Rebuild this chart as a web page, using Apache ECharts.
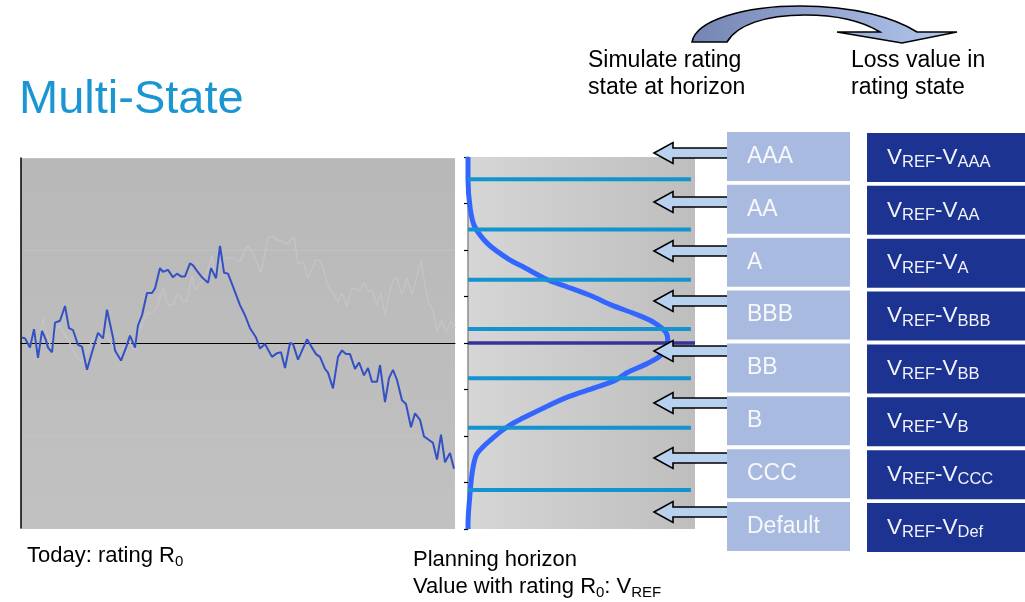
<!DOCTYPE html>
<html>
<head>
<meta charset="utf-8">
<script src="https://cdn.jsdelivr.net/npm/echarts@6/dist/echarts.min.js"></script>
<style>
  html, body { margin: 0; padding: 0; background: #ffffff; }
  #chart { width: 1025px; height: 602px; }
</style>
</head>
<body>
<div id="chart"></div>
<script>
// Simulated rating-index path (day, level) from today to the planning horizon
const walkDay = [1, 4, 6, 9, 13, 17, 21, 23, 25, 27, 31, 34, 39, 44, 48, 52, 57, 61, 66, 71,
  77, 82, 86, 92, 94, 100, 105, 109, 114, 117, 121, 126, 131, 134, 139, 142, 147, 152, 156, 160,
  164, 169, 172, 176, 181, 187, 190, 195, 199, 203, 207, 212, 219, 224, 229, 232, 235, 239, 244, 246,
  251, 256, 260, 264, 269, 272, 277, 286, 291, 295, 299, 304, 307, 312, 317, 321, 325, 329, 334, 338,
  343, 347, 351, 356, 359, 364, 368, 372, 376, 381, 385, 390, 394, 399, 403, 407, 412, 416, 420, 424,
  429, 433];
const walkLevel = [0.06, 0.05, 0.01, -0.05, 0.15, -0.16, 0.13, 0.14, 0.03, -0.05, -0.10, 0.22, 0.24, 0.40, 0.16, 0.14, -0.02, -0.04, -0.29, -0.10,
  0.11, 0.05, 0.36, 0.06, -0.08, -0.19, -0.05, 0.08, -0.05, 0.19, 0.30, 0.54, 0.54, 0.59, 0.81, 0.77, 0.79, 0.71, 0.75, 0.72,
  0.72, 0.86, 0.84, 0.78, 0.71, 0.65, 0.81, 0.70, 1.05, 0.76, 0.75, 0.61, 0.41, 0.30, 0.16, 0.11, 0.06, -0.06, -0.01, -0.02,
  -0.15, -0.11, -0.10, -0.27, 0.00, -0.01, -0.18, 0.04, -0.05, -0.12, -0.15, -0.28, -0.32, -0.49, -0.15, -0.08, -0.12, -0.12, -0.28, -0.21,
  -0.35, -0.27, -0.42, -0.42, -0.24, -0.64, -0.38, -0.29, -0.40, -0.62, -0.66, -0.91, -0.76, -0.83, -1.01, -1.04, -1.08, -1.26, -0.99, -1.29,
  -1.19, -1.36];

// A second, alternative path shown faintly in the background
const ghostDay = [1, 4, 9, 13, 17, 22, 27, 31, 35, 39, 43, 48, 54, 60, 66, 72, 78, 84, 90, 96,
  102, 108, 113, 116, 126, 131, 136, 142, 147, 152, 157, 162, 166, 171, 174, 181, 186, 191, 194, 198,
  204, 212, 219, 226, 231, 240, 247, 252, 257, 261, 266, 273, 277, 282, 287, 295, 299, 302, 307, 312,
  317, 321, 326, 330, 334, 338, 343, 347, 351, 356, 360, 364, 369, 373, 376, 381, 386, 391, 400, 407,
  412, 416, 421, 425, 430, 434];
const ghostLevel = [0.06, 0.05, -0.03, 0.12, -0.14, 0.27, 0.05, -0.08, 0.15, 0.19, 0.10, 0.02, -0.12, -0.20, -0.10, 0.05, -0.02, 0.10, 0.00, -0.12,
  -0.06, 0.02, -0.08, 0.09, 0.32, 0.32, 0.39, 0.59, 0.41, 0.41, 0.54, 0.44, 0.46, 0.73, 0.57, 0.66, 0.76, 0.94, 0.70, 0.84,
  0.92, 0.92, 0.88, 1.05, 1.00, 0.76, 1.14, 1.15, 1.11, 1.10, 1.07, 1.15, 0.86, 0.88, 0.70, 0.90, 0.89, 0.82, 0.61, 0.54,
  0.44, 0.54, 0.39, 0.57, 0.59, 0.56, 0.65, 0.56, 0.57, 0.41, 0.54, 0.30, 0.57, 0.70, 0.70, 0.52, 0.70, 0.52, 0.89, 0.44,
  0.35, 0.12, 0.25, 0.11, 0.24, 0.16];

// Distribution of the rating index at the horizon (level, density)
const densityLevel = [2.00, 1.76, 1.44, 1.25, 1.06, 0.90, 0.81, 0.68, 0.61, 0.50, 0.41, 0.30, 0.22, 0.12, 0.03,
  -0.13, -0.22, -0.32, -0.40, -0.48, -0.58, -0.69, -0.81, -0.89, -1.02, -1.19, -1.37, -1.59, -1.95, -2.00];
const densityValue = [0.00, 0.00, 0.01, 0.03, 0.09, 0.18, 0.25, 0.35, 0.43, 0.55, 0.63, 0.75, 0.82, 0.87, 0.88,
  0.85, 0.79, 0.70, 0.65, 0.56, 0.44, 0.34, 0.24, 0.18, 0.11, 0.04, 0.02, 0.01, 0.00, 0.00];

// Rating-band thresholds on the index scale, and the reference level
const thresholds = [1.76, 1.22, 0.68, 0.15, -0.38, -0.91, -1.58];
const referenceLevel = 0;

// Rating states and loss labels
const ratings = ['AAA', 'AA', 'A', 'BBB', 'BB', 'B', 'CCC', 'Default'];
const lossSubs = ['AAA', 'AA', 'A', 'BBB', 'BB', 'B', 'CCC', 'Def'];

// ---- layout constants ----
const FONT = '"Liberation Sans", Arial, sans-serif';
const rowTop = 132, rowStep = 52.86, rowH = 49;
const arrowCenters = [153, 202, 251, 301, 351, 403, 458, 512];

// Curved block arrow between the two captions
echarts.graphic.registerShape('curvedArrow', echarts.graphic.extendPath(
  'M692,42 C696,20 745,6 800,6 C855,6 895,18 917,32 L957,32 L902,43 L837,32 L880,32 C862,21 835,15 805,15 C765,15 737,25 727,42 Z',
  {}
));

const chart = echarts.init(document.getElementById('chart'), null, { renderer: 'canvas' });

const series = [
  {
    type: 'line', xAxisIndex: 0, yAxisIndex: 0, symbol: 'none', z: 2,
    lineStyle: { color: '#c3c3c8', width: 1.5 },
    data: ghostDay.map((d, i) => [d, ghostLevel[i]])
  },
  {
    type: 'line', xAxisIndex: 0, yAxisIndex: 0, symbol: 'none', z: 3,
    lineStyle: { color: '#3351c4', width: 2 },
    data: walkDay.map((d, i) => [d, walkLevel[i]])
  },
  {
    type: 'line', xAxisIndex: 1, yAxisIndex: 1, symbol: 'none', z: 3, smooth: 0.3,
    lineStyle: { color: '#3366ff', width: 5 },
    data: densityLevel.map((l, i) => [densityValue[i], l])
  }
];
thresholds.forEach(t => {
  series.push({
    type: 'line', xAxisIndex: 1, yAxisIndex: 1, symbol: 'none', z: 4,
    lineStyle: { color: '#1592d0', width: 4 },
    data: [[0, t], [0.982, t]]
  });
});
series.push({
  type: 'line', xAxisIndex: 1, yAxisIndex: 1, symbol: 'none', z: 5,
  lineStyle: { color: '#333399', width: 3.5 },
  data: [[0, referenceLevel], [1, referenceLevel]]
});

// Decorations: headline, captions, rating boxes and pointer arrows
const graphics = [];

graphics.push({
  type: 'text', x: 19, y: 100,
  style: { text: 'Multi-State', fill: '#1b96d3', font: '47px ' + FONT, verticalAlign: 'middle' }
});
graphics.push({
  type: 'text', x: 588, y: 74,
  style: { text: 'Simulate rating\nstate at horizon', fill: '#000', font: '23px ' + FONT, lineHeight: 27, verticalAlign: 'middle' }
});
graphics.push({
  type: 'text', x: 851, y: 74,
  style: { text: 'Loss value in\nrating state', fill: '#000', font: '23px ' + FONT, lineHeight: 27, verticalAlign: 'middle' }
});

graphics.push({
  type: 'curvedArrow', z: 10,
  shape: {},
  style: {
    fill: new echarts.graphic.LinearGradient(0, 0, 1, 0, [
      { offset: 0, color: '#7585b3' }, { offset: 1, color: '#b4c8ef' }
    ]),
    stroke: '#000', lineWidth: 1.5
  }
});

const subRich = (main, sub) => ({
  m: { fontSize: main, fontFamily: FONT, lineHeight: main + 5, verticalAlign: 'middle' },
  s: { fontSize: sub, fontFamily: FONT, lineHeight: sub, verticalAlign: 'bottom' }
});

graphics.push({
  type: 'text', x: 27, y: 556,
  style: { text: '{m|Today: rating R}{s|0}', fill: '#000', rich: subRich(22, 15), verticalAlign: 'middle' }
});
graphics.push({
  type: 'text', x: 413, y: 573,
  style: {
    text: '{m|Planning horizon}\n{m|Value with rating R}{s|0}{m|: V}{s|REF}',
    fill: '#000', rich: subRich(22, 15), verticalAlign: 'middle'
  }
});

arrowCenters.forEach(cy => {
  graphics.push({
    type: 'polygon', z: 20,
    shape: { points: [[654, cy], [673, cy - 10.5], [673, cy - 5], [732, cy - 5], [732, cy + 5], [673, cy + 5], [673, cy + 10.5]] },
    style: { fill: '#b7d1ee', stroke: '#000', lineWidth: 1.6 }
  });
});

ratings.forEach((r, i) => {
  const top = rowTop + i * rowStep;
  graphics.push({
    type: 'rect', z: 30,
    shape: { x: 727, y: top, width: 123, height: rowH },
    style: { fill: '#a8badf' }
  });
  graphics.push({
    type: 'text', z: 31, x: 747, y: top + rowH / 2,
    style: { text: r, fill: '#f7f8fc', font: '23px ' + FONT, verticalAlign: 'middle' }
  });
  graphics.push({
    type: 'rect', z: 30,
    shape: { x: 867, y: top + 1, width: 158, height: rowH },
    style: { fill: '#1c3391' }
  });
  graphics.push({
    type: 'text', z: 31, x: 887, y: top + 1 + rowH / 2,
    style: {
      text: '{m|V}{s|REF}{m|-V}{s|' + lossSubs[i] + '}',
      fill: '#f2f4fa', rich: subRich(22.5, 16.5), verticalAlign: 'middle'
    }
  });
});

const option = {
  animation: false,
  backgroundColor: '#ffffff',
  grid: [
    {
      left: 21, top: 158, width: 434, height: 370, show: true, borderWidth: 0,
      backgroundColor: new echarts.graphic.LinearGradient(0, 0, 0, 1, [
        { offset: 0, color: '#b8b8b8' }, { offset: 1, color: '#c1c1c1' }
      ])
    },
    {
      left: 468, top: 157, width: 227, height: 372, show: true, borderWidth: 0,
      backgroundColor: new echarts.graphic.LinearGradient(0, 0, 1, 0, [
        { offset: 0, color: '#d6d6d6' }, { offset: 1, color: '#bebebe' }
      ])
    }
  ],
  xAxis: [
    {
      type: 'value', gridIndex: 0, min: 0, max: 434,
      axisLine: { show: true, onZero: true, lineStyle: { color: '#000', width: 1 } },
      axisTick: { show: false }, axisLabel: { show: false }, splitLine: { show: false }
    },
    {
      type: 'value', gridIndex: 1, min: 0, max: 1, show: false
    }
  ],
  yAxis: [
    {
      type: 'value', gridIndex: 0, min: -2, max: 2, interval: 1,
      axisLine: { show: true, lineStyle: { color: '#000', width: 1.5 } },
      axisTick: { show: false }, axisLabel: { show: false },
      splitLine: { show: true, lineStyle: { color: '#c2c2c2', width: 1 } }
    },
    {
      type: 'value', gridIndex: 1, min: -2, max: 2, interval: 0.5,
      axisLine: { show: true, lineStyle: { color: '#8c8c8c', width: 1.5 } },
      axisTick: { show: true, inside: false, length: 4, lineStyle: { color: '#000', width: 1.2 } },
      axisLabel: { show: false }, splitLine: { show: false }
    }
  ],
  series: series,
  graphic: { elements: graphics }
};

chart.setOption(option);
</script>
</body>
</html>
